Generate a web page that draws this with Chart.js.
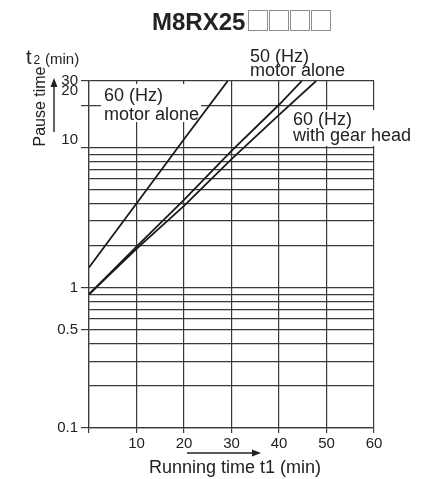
<!DOCTYPE html>
<html><head><meta charset="utf-8">
<script src="https://cdn.jsdelivr.net/npm/chart.js@4/dist/chart.umd.min.js"></script>
<style>html,body{margin:0;padding:0;background:#fff}</style>
</head><body>
<canvas id="c" width="446" height="479"></canvas>
<script>
// ---- data ----
const chartTitleModel = 'M8RX25';
const chartTitleSuffix = '□□□□';
const xAxisTitle = 'Running time t1 (min)';
const yAxisTitle = 'Pause time';
const yUnitSymbol = 't';
const yUnitIndex = '2';
const yUnitText = '(min)';
const xTickValues = [0, 10, 20, 30, 40, 50, 60];
const xTickLabels = ['', '10', '20', '30', '40', '50', '60'];
const yGridValues = [0.1, 0.2, 0.3, 0.4, 0.5, 0.6, 0.7, 0.8, 0.9, 1, 2, 3, 4, 5, 6, 7, 8, 9, 10, 20, 30];
const yTickValues = [0.1, 0.5, 1, 10, 20, 30];
const yTickLabels = ['0.1', '0.5', '1', '10', '20', '30'];
const labelA = ['60 (Hz)', 'motor alone'];
const labelB = ['50 (Hz)', 'motor alone'];
const labelC = ['60 (Hz)', 'with gear head'];
const runA = [0, 10, 20, 29.2];
const pauseA = [1.4, 4.0, 11.5, 30];
const runB = [0, 10, 20, 30, 40, 44.8];
const pauseB = [0.9, 1.97, 4.25, 9.5, 20.3, 30];
const runC = [0, 10, 20, 30, 40, 47.8];
const pauseC = [0.9, 1.9, 3.85, 8.3, 17.2, 30];

// ---- styling ----
const FONT = '"Liberation Sans", Arial, Helvetica, sans-serif';
const INK = '#222';
const GRID = '#3a3a3a';
// label line-height tweaks (shift some tick labels upward like the reference)
const yLabelLift = {10: 16, 20: 30};

const pts = (xs, ys) => xs.map((x, i) => ({x, y: ys[i]}));

const lineDs = (xs, ys) => ({
  data: pts(xs, ys),
  borderColor: '#1a1a1a',
  borderWidth: 1.8,
  pointRadius: 0,
  fill: false,
  tension: 0
});

const decor = {
  id: 'decor',
  beforeDatasetsDraw(chart) {
    const ctx = chart.ctx;
    ctx.save();
    ctx.fillStyle = '#fff';
    ctx.fillRect(101, 84, 100, 38);
    ctx.fillRect(291, 110, 124, 36);
    ctx.fillStyle = INK;
    ctx.font = '18px ' + FONT;
    ctx.textAlign = 'left';
    ctx.textBaseline = 'alphabetic';
    ctx.fillText(labelA[0], 104, 101);
    ctx.fillText(labelA[1], 104, 120);
    ctx.fillText(labelC[0], 293, 125);
    ctx.fillText(labelC[1], 293, 141);
    ctx.restore();
  },
  afterDraw(chart) {
    const ctx = chart.ctx;
    ctx.save();
    ctx.fillStyle = INK;
    ctx.strokeStyle = INK;
    ctx.textBaseline = 'alphabetic';
    ctx.textAlign = 'left';
    // title
    ctx.font = 'bold 24px ' + FONT;
    ctx.fillText(chartTitleModel, 152, 29.5);
    const wModel = ctx.measureText(chartTitleModel).width;
    ctx.font = '25px "Noto Sans CJK JP"';
    ctx.fillStyle = '#8a8a8a';
    ctx.letterSpacing = '-4px';
    ctx.fillText(chartTitleSuffix, 152 + wModel, 30);
    ctx.letterSpacing = '0px';
    ctx.fillStyle = INK;
    // 50 Hz annotation (above plot)
    ctx.font = '18px ' + FONT;
    ctx.fillText(labelB[0], 250, 61.5);
    ctx.fillText(labelB[1], 250, 76);
    // y unit
    ctx.font = '20px ' + FONT;
    ctx.fillText(yUnitSymbol, 26, 64);
    ctx.font = '12px ' + FONT;
    ctx.fillText(yUnitIndex, 33.5, 64);
    ctx.font = '15px ' + FONT;
    ctx.fillText(yUnitText, 45, 64);
    // y axis title rotated
    ctx.save();
    ctx.translate(45, 106.5);
    ctx.rotate(-Math.PI / 2);
    ctx.font = '16px ' + FONT;
    ctx.textAlign = 'center';
    ctx.fillText(yAxisTitle, 0, 0);
    ctx.restore();
    // y arrow
    ctx.lineWidth = 1.4;
    ctx.beginPath(); ctx.moveTo(54, 132); ctx.lineTo(54, 86); ctx.stroke();
    ctx.beginPath(); ctx.moveTo(54, 78); ctx.lineTo(50.5, 87); ctx.lineTo(57.5, 87); ctx.closePath(); ctx.fill();
    // x axis title + arrow
    ctx.font = '18px ' + FONT;
    ctx.textAlign = 'center';
    ctx.fillText(xAxisTitle, 235, 473);
    ctx.beginPath(); ctx.moveTo(187, 453); ctx.lineTo(252, 453); ctx.stroke();
    ctx.beginPath(); ctx.moveTo(261, 453); ctx.lineTo(252, 449.5); ctx.lineTo(252, 456.5); ctx.closePath(); ctx.fill();
    ctx.restore();
  }
};

new Chart(document.getElementById('c'), {
  type: 'line',
  data: {
    datasets: [lineDs(runA, pauseA), lineDs(runB, pauseB), lineDs(runC, pauseC)]
  },
  options: {
    responsive: false,
    animation: false,
    layout: {padding: {top: 81, right: 72, bottom: 21, left: 0}},
    plugins: {legend: {display: false}, tooltip: {enabled: false}, title: {display: false}},
    scales: {
      x: {
        type: 'linear',
        min: 0, max: 60,
        afterFit: s => { s.height = 30; },
        afterBuildTicks: s => { s.ticks = xTickValues.map(v => ({value: v})); },
        grid: {color: GRID, lineWidth: 1.2, tickLength: 5, tickColor: GRID},
        border: {color: GRID, width: 1.2},
        ticks: {
          color: INK, padding: 2, maxRotation: 0, autoSkip: false,
          font: {family: FONT, size: 15},
          callback: v => { const i = xTickValues.indexOf(v); return i < 0 ? '' : xTickLabels[i]; }
        }
      },
      y: {
        type: 'logarithmic',
        min: 0.1, max: 30,
        afterFit: s => { s.width = 89; },
        afterBuildTicks: s => { s.ticks = yGridValues.map(v => ({value: v})); },
        grid: {
          color: GRID, lineWidth: 1.2, tickLength: 8,
          tickColor: c => (c.tick && yTickValues.includes(c.tick.value)) ? GRID : 'rgba(0,0,0,0)'
        },
        border: {color: GRID, width: 1.2},
        ticks: {
          color: INK, padding: 3, autoSkip: false,
          font: c => {
            const v = c.tick ? c.tick.value : null;
            const lift = yLabelLift[v];
            return {family: FONT, size: 15, lineHeight: lift ? (lift / 15) : 1.2};
          },
          callback: v => {
            const i = yTickValues.indexOf(v);
            if (i < 0) return '';
            return yLabelLift[v] ? [yTickLabels[i], ''] : yTickLabels[i];
          }
        }
      }
    }
  },
  plugins: [decor]
});
</script>
</body></html>
